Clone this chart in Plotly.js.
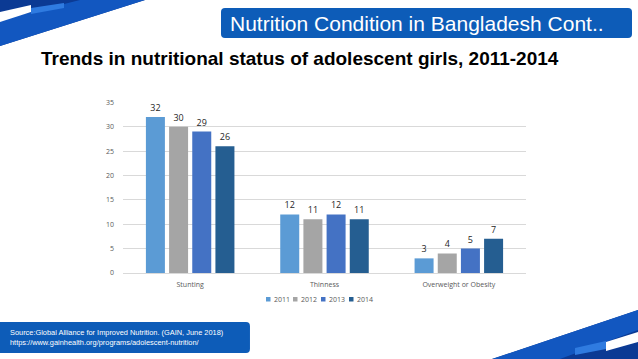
<!DOCTYPE html>
<html>
<head>
<meta charset="utf-8">
<script src="https://cdn.plot.ly/plotly-3.0.1.min.js"></script>
<style>html,body{margin:0;padding:0;background:#fff;}#chart{width:638px;height:359px;}</style>
</head>
<body>
<div id="chart"></div>
<script>
const categories = ["Stunting", "Thinness", "Overweight or Obesity"];
const years = ["2011", "2012", "2013", "2014"];
const values2011 = [32, 12, 3];
const values2012 = [30, 11, 4];
const values2013 = [29, 12, 5];
const values2014 = [26, 11, 7];
const seriesValues = [values2011, values2012, values2013, values2014];
const seriesColors = ["#5B9BD5", "#A5A5A5", "#4472C4", "#255E91"];
const yTicks = [0, 5, 10, 15, 20, 25, 30, 35];

const W = 638, H = 359;
function P(pts) {
  return pts.map((p, i) => (i ? "L" : "M") + (p[0] / W).toFixed(4) + "," + (1 - p[1] / H).toFixed(4)).join(" ") + " Z";
}
function roundRect(x0, y0, x1, y1, r) {
  const px = v => (v / W).toFixed(4), py = v => (1 - v / H).toFixed(4);
  return "M" + px(x0 + r) + "," + py(y0) +
    " L" + px(x1 - r) + "," + py(y0) +
    " Q" + px(x1) + "," + py(y0) + " " + px(x1) + "," + py(y0 + r) +
    " L" + px(x1) + "," + py(y1 - r) +
    " Q" + px(x1) + "," + py(y1) + " " + px(x1 - r) + "," + py(y1) +
    " L" + px(x0 + r) + "," + py(y1) +
    " Q" + px(x0) + "," + py(y1) + " " + px(x0) + "," + py(y1 - r) +
    " L" + px(x0) + "," + py(y0 + r) +
    " Q" + px(x0) + "," + py(y0) + " " + px(x0 + r) + "," + py(y0) + " Z";
}

const traces = years.map((yr, i) => ({
  type: "bar",
  name: yr,
  x: categories,
  y: seriesValues[i],
  marker: { color: seriesColors[i] },
  text: seriesValues[i].map(String),
  textposition: "outside",
  textfont: { family: "Open Sans, sans-serif", size: 9, color: "#262626" },
  cliponaxis: false,
  hoverinfo: "skip"
}));

const shapes = [
  { type: "path", xref: "paper", yref: "paper", path: P([[0,0],[145,0],[0,46]]), fillcolor: "#0b3a94", line: { width: 0 }, layer: "below" },
  { type: "path", xref: "paper", yref: "paper", path: P([[0,20],[80,0],[145,0],[0,46]]), fillcolor: "#1257c0", line: { width: 0 }, layer: "below" },
  { type: "path", xref: "paper", yref: "paper", path: P([[0,12],[31,5],[31,12],[0,22]]), fillcolor: "#ffffff", line: { width: 0 } },
  { type: "path", xref: "paper", yref: "paper", path: P([[31,8],[64,3],[64,8],[31,14]]), fillcolor: "#2f7be0", line: { width: 0 } },
  { type: "path", xref: "paper", yref: "paper", path: P([[638,310],[638,359],[492,359]]), fillcolor: "#0b3a94", line: { width: 0 }, layer: "below" },
  { type: "path", xref: "paper", yref: "paper", path: P([[638,310],[638,330],[560,359],[492,359]]), fillcolor: "#1257c0", line: { width: 0 }, layer: "below" },
  { type: "path", xref: "paper", yref: "paper", path: P([[606,342],[638,332],[638,342],[606,351]]), fillcolor: "#ffffff", line: { width: 0 } },
  { type: "path", xref: "paper", yref: "paper", path: P([[575,348],[606,341],[606,349],[575,355]]), fillcolor: "#2f7be0", line: { width: 0 } },
  { type: "path", xref: "paper", yref: "paper", path: roundRect(221, 8, 632, 38, 4), fillcolor: "#0d5cb8", line: { width: 0 } },
  { type: "path", xref: "paper", yref: "paper", path: roundRect(-6, 322, 250, 353, 4), fillcolor: "#0d5cb8", line: { width: 0 } }
];

const annotations = [
  { xref: "paper", yref: "paper", x: 228 / W, y: 1 - 23 / H, xanchor: "left", yanchor: "middle", showarrow: false,
    text: "Nutrition Condition in Bangladesh Cont..", font: { family: "Liberation Sans, Arial, sans-serif", size: 21, color: "#ffffff" } },
  { xref: "paper", yref: "paper", x: 39 / W, y: 1 - 58 / H, xanchor: "left", yanchor: "middle", showarrow: false,
    text: "<b>Trends in nutritional status of adolescent girls, 2011-2014</b>", font: { family: "Liberation Sans, Arial, sans-serif", size: 19, color: "#000000" } },
  { xref: "paper", yref: "paper", x: 8 / W, y: 1 - 337 / H, xanchor: "left", yanchor: "middle", showarrow: false, align: "left",
    text: "Source:Global Alliance for Improved Nutrition. (GAIN, June 2018)<br>https://www.gainhealth.org/programs/adolescent-nutrition/",
    font: { family: "Liberation Sans, Arial, sans-serif", size: 7.4, color: "#ffffff" } }
];

const legendX = [266, 293, 321, 349];
const legendY = 299;
years.forEach((yr, i) => {
  shapes.push({ type: "rect", xref: "paper", yref: "paper",
    x0: legendX[i] / W, x1: (legendX[i] + 4.5) / W, y0: 1 - (legendY + 2.5) / H, y1: 1 - (legendY - 2) / H,
    fillcolor: seriesColors[i], line: { width: 0 } });
  annotations.push({ xref: "paper", yref: "paper", x: (legendX[i] + 5.5) / W, y: 1 - legendY / H, xanchor: "left", yanchor: "middle",
    showarrow: false, text: yr, font: { family: "Open Sans, sans-serif", size: 7, color: "#595959" } });
});

const layout = {
  width: W, height: H,
  margin: { l: 0, r: 0, t: 0, b: 0 },
  paper_bgcolor: "#ffffff", plot_bgcolor: "#ffffff",
  barmode: "group",
  bargap: 0.31,
  bargroupgap: 0.18,
  showlegend: false,
  xaxis: { domain: [123 / W, 526 / W], showgrid: false, showline: false, zeroline: false, ticks: "", ticklabelstandoff: 6,
           tickfont: { family: "Open Sans, sans-serif", size: 7, color: "#595959" } },
  yaxis: { domain: [1 - 273 / H, 1 - 102.3 / H], range: [0, 35], tickvals: yTicks, ticktext: yTicks.map(String),
           showgrid: true, gridcolor: "#d9d9d9", gridwidth: 1, zeroline: true, zerolinecolor: "#d9d9d9", zerolinewidth: 1,
           showline: false, ticks: "", ticklabelstandoff: 8,
           tickfont: { family: "Open Sans, sans-serif", size: 7, color: "#595959" } },
  shapes: shapes,
  annotations: annotations,
  font: { family: "Open Sans, sans-serif" }
};

Plotly.newPlot("chart", traces, layout, { staticPlot: true, displayModeBar: false });
</script>
</body>
</html>
